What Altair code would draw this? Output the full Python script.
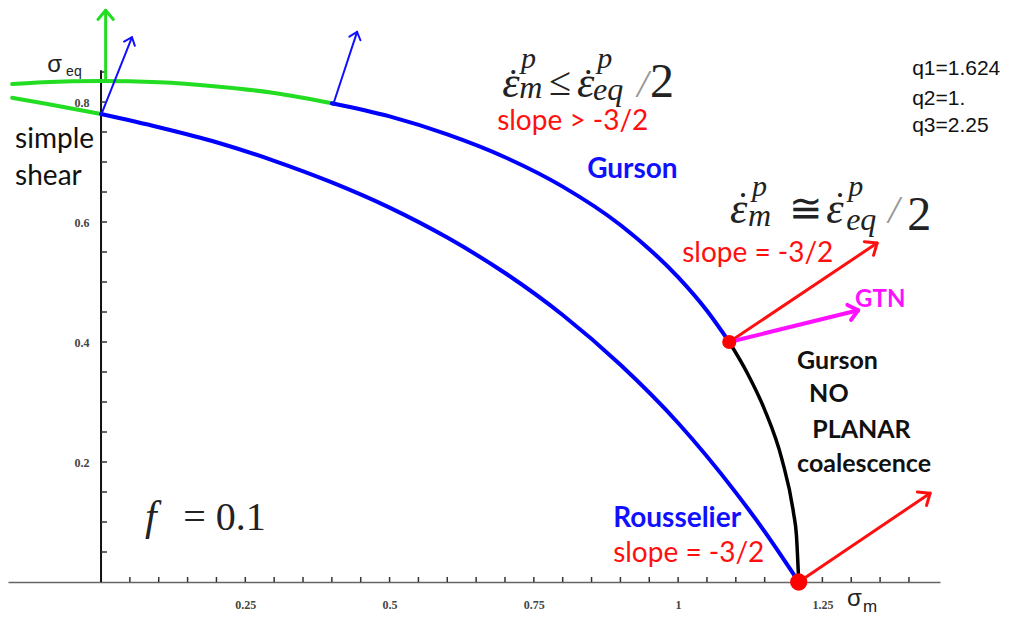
import math
import altair as alt
import pandas as pd

# ---------------- data (sigma_m, sigma_eq) ----------------
# GTN / Gurson yield surface  (q1=1.624, q2=1, q3=2.25, f=0.1)
gtn_green_x = [-0.154, -0.1, 0.0, 0.1, 0.2, 0.3, 0.4]
gtn_green_y = [0.830, 0.833, 0.835, 0.833, 0.826, 0.815, 0.798]
gtn_blue_x = [0.4, 0.5, 0.6, 0.7, 0.8, 0.9, 1.0, 1.05, 1.0886]
gtn_blue_y = [0.798, 0.776, 0.746, 0.708, 0.659, 0.595, 0.508, 0.452, 0.400]
gtn_black_x = [1.0886, 1.12, 1.15, 1.18, 1.20, 1.205, 1.209]
gtn_black_y = [0.400, 0.348, 0.287, 0.204, 0.115, 0.078, 0.0]
# Rousselier yield surface
rou_green_x = [-0.154, -0.1, 0.0]
rou_green_y = [0.807, 0.798, 0.780]
rou_blue_x = [0.0, 0.1, 0.2, 0.3, 0.4, 0.5, 0.6, 0.7, 0.8, 0.9, 1.0, 1.1, 1.15, 1.18, 1.2, 1.209]
rou_blue_y = [0.780, 0.758, 0.733, 0.702, 0.666, 0.624, 0.574, 0.515, 0.445, 0.362, 0.265, 0.149,
              0.084, 0.042, 0.013, 0.0]

# plastic-flow arrows: start -> tip
arrow_x0 = [0.008, 0.0, 0.402, 1.0886, 1.0886, 1.209]
arrow_y0 = [0.835, 0.778, 0.795, 0.400, 0.400, 0.0]
arrow_x1 = [0.008, 0.0537, 0.4437, 1.3449, 1.3120, 1.4367]
arrow_y1 = [0.953, 0.908, 0.917, 0.565, 0.453, 0.148]
arrow_kind = ["shear", "normal", "normal", "slope", "gtn", "slope"]

# special points (red dots)
dot_x = [1.0886, 1.209]
dot_y = [0.400, 0.0]
dot_kind = ["small", "big"]

# axis ticks / labels
x_label_values = [0.25, 0.5, 0.75, 1.0, 1.25]
y_label_values = [0.2, 0.4, 0.6, 0.8]
x_minor_ticks = [round(0.05 * i, 2) for i in range(1, 29)]
y_minor_ticks = [round(0.05 * i, 2) for i in range(1, 18)]

# annotations
ann_text = ["simple", "shear", "slope > -3/2", "slope = -3/2", "slope = -3/2",
            "Gurson", "Rousselier", "GTN", "Gurson", "NO", "PLANAR", "coalescence",
            "ε", "ε", "ε", "ε", "f",
            ".", ".", ".", ".",
            "p", "p", "p", "p",
            "m", "eq", "m", "eq",
            "≤", "≅", "= 0.1",
            "2", "2",
            "/", "/",
            "σ", "eq", "σ", "m",
            "q1=1.624", "q2=1.", "q3=2.25"]
ann_x = [-0.1489, -0.1489, 0.6864, 1.0070, 0.8874,
         0.8424, 0.8874, 1.3067, 1.2062, 1.2270, 1.2323, 1.2062,
         0.6951, 0.8249, 1.0901, 1.2565, 0.0764,
         0.7141, 0.8442, 1.1126, 1.2807,
         0.7279, 0.8597, 1.1282, 1.2946,
         0.7245, 0.8527, 1.1213, 1.2912,
         0.7765, 1.1923, 0.1423,
         0.9514, 1.3969,
         0.9290, 1.3640,
         -0.0934, -0.0605, 1.2925, 1.3205,
         1.4055, 1.4055, 1.4055]
ann_y = [0.724, 0.662, 0.7537, 0.5337, 0.0337,
         0.6737, 0.0920, 0.4587, 0.3553, 0.3003, 0.2403, 0.1837,
         0.8087, 0.8087, 0.5987, 0.5987, 0.087,
         0.847, 0.847, 0.642, 0.642,
         0.857, 0.857, 0.6437, 0.6437,
         0.807, 0.8037, 0.5937, 0.5870,
         0.812, 0.6003, 0.087,
         0.8087, 0.587,
         0.8087, 0.5987,
         0.850, 0.844, -0.0397, -0.0497,
         0.8453, 0.7953, 0.7503]
ann_style = ["label", "label", "slope", "slope", "slope",
             "blue_b", "blue_b", "gtn", "black_b", "black_b", "black_b", "black_b",
             "m_eps", "m_eps", "m_eps", "m_eps", "f_it",
             "m_dot", "m_dot", "m_dot", "m_dot",
             "m_sup", "m_sup", "m_sup", "m_sup",
             "m_sub", "m_sub", "m_sub", "m_sub",
             "m_rel", "m_rel", "m_rel",
             "m_two", "m_two",
             "m_slash", "m_slash",
             "ax", "ax_sub", "ax", "ax_sub2",
             "q", "q", "q"]

# ---------------- styles ----------------
STYLES = {
    "label":   dict(font="Lato", fontSize=28, color="#111111"),
    "slope":   dict(font="Lato", fontSize=28, color="#ff1010"),
    "blue_b":  dict(font="Lato", fontSize=28, fontWeight="bold", color="#1010ff"),
    "gtn":     dict(font="Lato", fontSize=24, fontWeight="bold", color="#ff10ff"),
    "black_b": dict(font="Lato", fontSize=25, fontWeight="bold", color="#111111"),
    "m_eps":   dict(font="Liberation Serif", fontSize=44, fontStyle="italic", color="#222222"),
    "m_dot":   dict(font="Liberation Serif", fontSize=34, align="center", color="#222222"),
    "f_it":    dict(font="Liberation Serif", fontSize=42, fontStyle="italic", color="#222222"),
    "m_sup":   dict(font="Liberation Serif", fontSize=30, fontStyle="italic", color="#222222"),
    "m_sub":   dict(font="Liberation Serif", fontSize=32, fontStyle="italic", color="#222222"),
    "m_rel":   dict(font="Liberation Serif", fontSize=40, color="#222222"),
    "m_two":   dict(font="Liberation Serif", fontSize=48, color="#222222"),
    "m_slash": dict(font="Liberation Serif", fontSize=40, fontStyle="italic", color="#999999"),
    "ax":      dict(font="Liberation Sans", fontSize=24, color="#222222"),
    "ax_sub":  dict(font="Liberation Sans", fontSize=14, color="#222222"),
    "ax_sub2": dict(font="Liberation Sans", fontSize=17, color="#222222"),
    "q":       dict(font="Liberation Sans", fontSize=21, color="#111111"),
}
ARROW_STYLE = {  # colour, shaft width, head size
    "shear":  ("#22dd22", 3, 420),
    "normal": ("#1010ff", 2, 240),
    "slope":  ("#ff1010", 3, 480),
    "gtn":    ("#ff10ff", 4, 420),
}
DOT_SIZE = {"small": 200, "big": 300}

X_DOMAIN = [-0.1612, 1.4538]
Y_DOMAIN = [0.0, 0.9567]
W, H = 932, 574
PX_X = W / (X_DOMAIN[1] - X_DOMAIN[0])
PX_Y = H / (Y_DOMAIN[1] - Y_DOMAIN[0])

xs = alt.Scale(domain=X_DOMAIN, nice=False, zero=False)
ys = alt.Scale(domain=Y_DOMAIN, nice=False, zero=False)
x_axis = alt.Axis(values=x_label_values, format=".2~f", title=None, grid=False, ticks=False,
                  tickSize=0, domain=True, domainColor="#666666", domainWidth=1.5,
                  labelFont="Liberation Serif", labelFontSize=12, labelFontWeight="bold",
                  labelColor="#444444", labelPadding=17)
y_axis = alt.Axis(values=y_label_values, format=".1f", title=None, grid=False, ticks=False,
                  tickSize=0, domain=False, orient="left", offset=-(0 - X_DOMAIN[0]) * PX_X,
                  labelFont="Liberation Serif", labelFontSize=12, labelFontWeight="bold",
                  labelColor="#444444", labelPadding=12)


def X(f="x"):
    return alt.X(f"{f}:Q", scale=xs, axis=x_axis)


def Y(f="y"):
    return alt.Y(f"{f}:Q", scale=ys, axis=y_axis)


def curve(xv, yv, color, width):
    df = pd.DataFrame({"x": xv, "y": yv, "o": list(range(len(xv)))})
    return alt.Chart(df).mark_line(color=color, strokeWidth=width, interpolate="monotone",
                                   strokeCap="round").encode(x=X(), y=Y(), order="o:Q")


layers = []

# axis line (y) and ticks
layers.append(alt.Chart(pd.DataFrame({"x": [0.0], "y": [0.0], "y2": [0.853]}))
              .mark_rule(color="#111111", strokeWidth=2).encode(x=X(), y=Y(), y2="y2:Q"))
layers.append(alt.Chart(pd.DataFrame({"x": [0.0] * len(y_minor_ticks), "x2": [6 / PX_X] * len(y_minor_ticks),
                                      "y": y_minor_ticks}))
              .mark_rule(color="#333333", strokeWidth=1.5).encode(x=X(), x2="x2:Q", y=Y()))
layers.append(alt.Chart(pd.DataFrame({"x": x_minor_ticks, "y": [0.0] * len(x_minor_ticks),
                                      "y2": [5 / PX_Y] * len(x_minor_ticks)}))
              .mark_rule(color="#333333", strokeWidth=1.5).encode(x=X(), y=Y(), y2="y2:Q"))

# curves
layers.append(curve(gtn_green_x, gtn_green_y, "#22dd22", 4))
layers.append(curve(rou_green_x, rou_green_y, "#22dd22", 4))
layers.append(curve(gtn_blue_x, gtn_blue_y, "#0000ff", 4))
layers.append(curve(rou_blue_x, rou_blue_y, "#0000ff", 4))
layers.append(curve(gtn_black_x, gtn_black_y, "#000000", 3.5))

# arrows
arr = pd.DataFrame({"x0": arrow_x0, "y0": arrow_y0, "x1": arrow_x1, "y1": arrow_y1, "kind": arrow_kind})
arr["c"] = [ARROW_STYLE[k][0] for k in arrow_kind]
arr["w"] = [ARROW_STYLE[k][1] for k in arrow_kind]
arr["hs"] = [ARROW_STYLE[k][2] for k in arrow_kind]
arr["angle"] = [(math.degrees(math.atan2((b - a) * PX_X, (d - c) * PX_Y)) + 360) % 360
                for a, b, c, d in zip(arrow_x0, arrow_x1, arrow_y0, arrow_y1)]
layers.append(alt.Chart(arr).mark_rule(strokeCap="round").encode(
    x=X("x0"), y=Y("y0"), x2="x1:Q", y2="y1:Q",
    color=alt.Color("c:N", scale=None), strokeWidth=alt.StrokeWidth("w:Q", scale=None)))
CHEVRON = "M -0.75 0.9 L 0 0 L 0.75 0.9"
layers.append(alt.Chart(arr).mark_point(shape=CHEVRON, filled=False, opacity=1,
                                        strokeCap="round", strokeJoin="round").encode(
    x=X("x1"), y=Y("y1"), angle=alt.Angle("angle:Q", scale=None),
    color=alt.Color("c:N", scale=None), size=alt.Size("hs:Q", scale=None),
    strokeWidth=alt.StrokeWidth("w:Q", scale=None)))

# red dots
dots = pd.DataFrame({"x": dot_x, "y": dot_y, "s": [DOT_SIZE[k] for k in dot_kind]})
layers.append(alt.Chart(dots).mark_circle(color="#ff0000", opacity=1).encode(
    x=X(), y=Y(), size=alt.Size("s:Q", scale=None)))

# text annotations, one layer per style
ann = pd.DataFrame({"t": ann_text, "x": ann_x, "y": ann_y, "st": ann_style})
for st, props in STYLES.items():
    sub = ann[ann["st"] == st]
    if sub.empty:
        continue
    p = dict(align="left", baseline="alphabetic")
    p.update(props)
    layers.append(alt.Chart(sub).mark_text(**p).encode(x=X(), y=Y(), text="t:N"))

chart = alt.layer(*layers).properties(
    width=W, height=H,
    autosize=alt.AutoSizeParams(type="none"),
    padding={"left": 0, "top": 0, "right": 71, "bottom": 34},
).configure_view(stroke=None)

chart.save("out.html", embed_options={"renderer": "svg", "actions": False})
